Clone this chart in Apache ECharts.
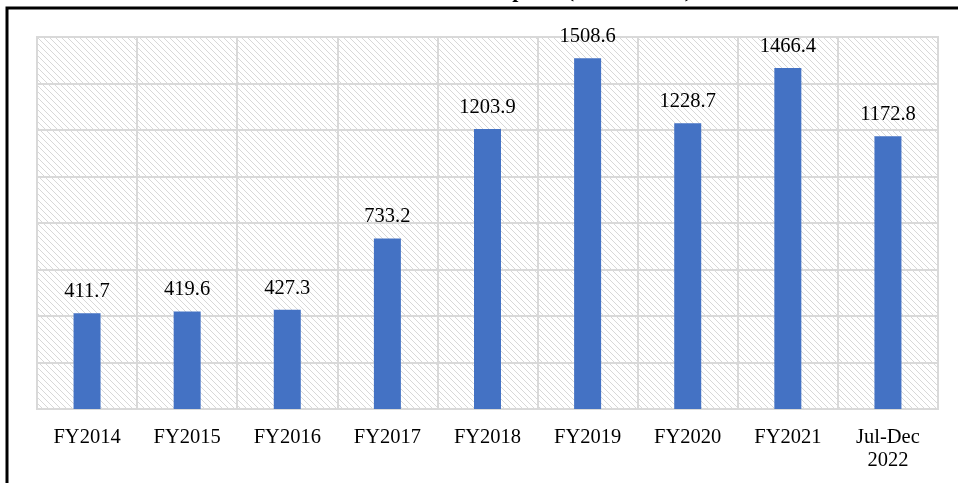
<!DOCTYPE html>
<html>
<head>
<meta charset="utf-8">
<script src="https://cdn.jsdelivr.net/npm/echarts@6/dist/echarts.min.js"></script>
<style>
  html, body { margin: 0; padding: 0; background: #fff; }
  #chart { width: 958px; height: 483px; }
</style>
</head>
<body>
<div id="chart"></div>
<script>
// data
const categories = ['FY2014', 'FY2015', 'FY2016', 'FY2017', 'FY2018', 'FY2019', 'FY2020', 'FY2021', 'Jul-Dec\n2022'];
const values = [411.7, 419.6, 427.3, 733.2, 1203.9, 1508.6, 1228.7, 1466.4, 1172.8];
const titleText = 'Exports (US$ million)';

const SERIF = '"Liberation Serif", "Times New Roman", serif';
const GRID_LINE = '#d9d9d9';

// diagonal hatch for plot background
function makeHatch() {
    const c = document.createElement('canvas');
    c.width = 6; c.height = 6;
    const ctx = c.getContext('2d');
    ctx.fillStyle = '#fff';
    ctx.fillRect(0, 0, 6, 6);
    ctx.fillStyle = '#d8d8d8';
    for (let i = 0; i < 6; i++) ctx.fillRect(i, i, 1, 1);
    return c;
}

const chart = echarts.init(document.getElementById('chart'));
chart.setOption({
    backgroundColor: '#fff',
    animation: false,
    graphic: [
        { type: 'text', z: 10, x: 692, y: -9,
          style: { text: titleText, font: 'bold 22px ' + SERIF, fill: '#000', align: 'right', verticalAlign: 'middle' } },
        { type: 'rect', z: 10, shape: { x: 7, y: 8, width: 980, height: 500 },
          style: { fill: 'none', stroke: '#000', lineWidth: 3 } }
    ],
    grid: { left: 37, right: 20, top: 37, bottom: 74, show: true,
        backgroundColor: { image: makeHatch(), repeat: 'repeat' },
        borderColor: GRID_LINE, borderWidth: 2 },
    xAxis: {
        type: 'category', data: categories,
        axisLine: { show: true, lineStyle: { color: GRID_LINE, width: 2 } },
        axisTick: { show: false },
        splitLine: { show: true, interval: 0, lineStyle: { color: GRID_LINE, width: 2 } },
        axisLabel: { interval: 0, margin: 17, color: '#000', fontSize: 20.5, fontFamily: SERIF, lineHeight: 23 }
    },
    yAxis: {
        type: 'value', min: 0, max: 1600, interval: 200,
        axisLine: { show: false }, axisTick: { show: false }, axisLabel: { show: false },
        splitLine: { show: true, lineStyle: { color: GRID_LINE, width: 2 } }
    },
    series: [{
        type: 'bar', data: values, barWidth: 27,
        itemStyle: { color: '#4472C4' },
        label: { show: true, position: 'top', distance: 11, color: '#000', fontSize: 20.5, fontFamily: SERIF,
            formatter: p => p.value.toFixed(1) }
    }]
});
</script>
</body>
</html>
